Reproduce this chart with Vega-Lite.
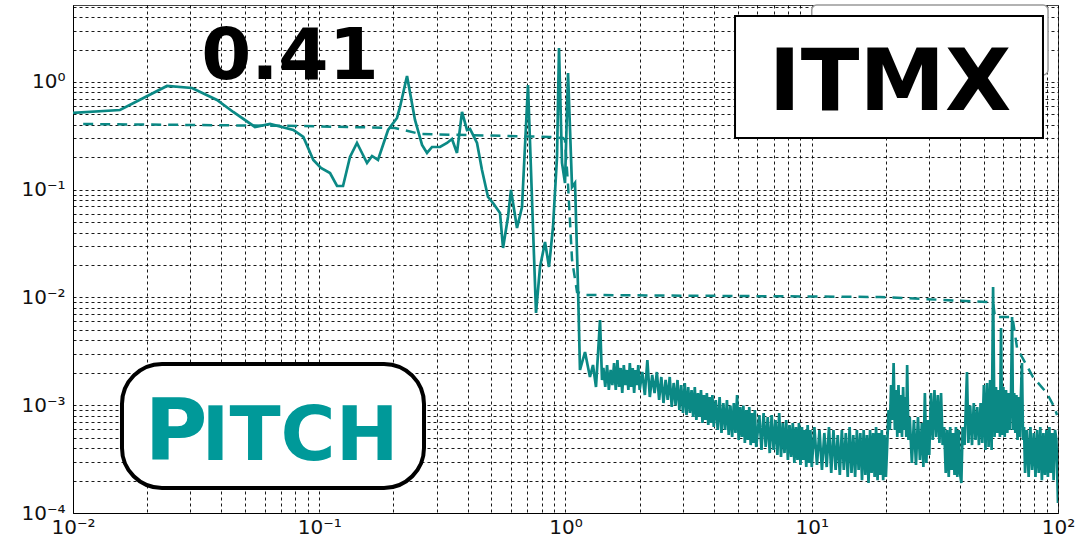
{
  "$schema": "https://vega.github.io/schema/vega-lite/v6.json",
  "width": 985,
  "height": 508,
  "autosize": {"type": "none"},
  "padding": {"left": 73, "top": 5, "right": 28, "bottom": 44},
  "background": "white",
  "config": {
    "view": {"stroke": "#444", "strokeWidth": 1},
    "font": "DejaVu Sans",
    "axis": {
      "title": null, "grid": true, "ticks": false, "domain": true, "domainColor": "black",
      "gridColor": "black", "gridDash": [3, 3], "gridWidth": 1, "gridOpacity": 0.9,
      "labelFont": "DejaVu Sans", "labelFontSize": 20, "labelColor": "#111",
      "labelFlush": false, "labelOverlap": false
    }
  },
  "datasets": {
    "spectrum": [
      {"f": 0.01, "v": 0.5156}, {"f": 0.01552, "v": 0.5497}, {"f": 0.02408, "v": 0.9181}, {"f": 0.03043, "v": 0.8796},
      {"f": 0.03845, "v": 0.6808}, {"f": 0.04474, "v": 0.5266}, {"f": 0.05484, "v": 0.3824}, {"f": 0.0631, "v": 0.4076},
      {"f": 0.07846, "v": 0.3585}, {"f": 0.08616, "v": 0.3088}, {"f": 0.09462, "v": 0.1888}, {"f": 0.1016, "v": 0.1591},
      {"f": 0.1106, "v": 0.143}, {"f": 0.1181, "v": 0.1083}, {"f": 0.1249, "v": 0.1083}, {"f": 0.1333, "v": 0.2013},
      {"f": 0.1423, "v": 0.2716}, {"f": 0.1563, "v": 0.1771}, {"f": 0.1638, "v": 0.2056}, {"f": 0.1732, "v": 0.1888},
      {"f": 0.1903, "v": 0.3585}, {"f": 0.2069, "v": 0.4634}, {"f": 0.2128, "v": 0.5861}, {"f": 0.2272, "v": 1.137},
      {"f": 0.2448, "v": 0.4439}, {"f": 0.2615, "v": 0.2602}, {"f": 0.2739, "v": 0.2194}, {"f": 0.287, "v": 0.2492},
      {"f": 0.3093, "v": 0.2492}, {"f": 0.3302, "v": 0.2716}, {"f": 0.346, "v": 0.2958}, {"f": 0.3625, "v": 0.2194},
      {"f": 0.3799, "v": 0.5266}, {"f": 0.3981, "v": 0.3585}, {"f": 0.4095, "v": 0.3663}, {"f": 0.4372, "v": 0.2716},
      {"f": 0.458, "v": 0.1525}, {"f": 0.4845, "v": 0.08562}, {"f": 0.5077, "v": 0.07534}, {"f": 0.542, "v": 0.06084},
      {"f": 0.5576, "v": 0.0288}, {"f": 0.584, "v": 0.05585}, {"f": 0.6006, "v": 0.09947}, {"f": 0.6355, "v": 0.04416},
      {"f": 0.6658, "v": 0.06918}, {"f": 0.7042, "v": 0.9379}, {"f": 0.759, "v": 0.007181}, {"f": 0.7881, "v": 0.01919},
      {"f": 0.8258, "v": 0.03273}, {"f": 0.857, "v": 0.01919}, {"f": 0.8897, "v": 0.04511}, {"f": 0.9237, "v": 0.2013},
      {"f": 0.941, "v": 2.068}, {"f": 0.9678, "v": 0.1771}, {"f": 0.9954, "v": 0.1155}, {"f": 1.024, "v": 1.212},
      {"f": 1.063, "v": 0.106}, {"f": 1.093, "v": 0.1155}, {"f": 1.124, "v": 0.01252}, {"f": 1.145, "v": 0.002124},
      {"f": 1.2, "v": 0.003119}, {"f": 1.257, "v": 0.001829}, {"f": 1.293, "v": 0.002363}, {"f": 1.33, "v": 0.001477},
      {"f": 1.381, "v": 0.006181}, {"f": 1.407, "v": 0.001715},
      {"f": 1.425, "v": 0.002217}, {"f": 1.45, "v": 0.001477}, {"f": 1.475, "v": 0.002363}, {"f": 1.5, "v": 0.001385},
      {"f": 1.525, "v": 0.002124}, {"f": 1.55, "v": 0.00154}, {"f": 1.575, "v": 0.002466}, {"f": 1.6, "v": 0.001385},
      {"f": 1.625, "v": 0.00263}, {"f": 1.65, "v": 0.001477}, {"f": 1.675, "v": 0.002217}, {"f": 1.7, "v": 0.001299},
      {"f": 1.725, "v": 0.002363}, {"f": 1.75, "v": 0.00154}, {"f": 1.775, "v": 0.002124}, {"f": 1.8, "v": 0.001385},
      {"f": 1.825, "v": 0.002466}, {"f": 1.85, "v": 0.001477}, {"f": 1.875, "v": 0.002217}, {"f": 1.9, "v": 0.001299},
      {"f": 1.925, "v": 0.002124}, {"f": 1.95, "v": 0.00154}, {"f": 1.975, "v": 0.002363}, {"f": 2.0, "v": 0.001385},
      {"f": 2.05, "v": 0.002035}, {"f": 2.1, "v": 0.001245}, {"f": 2.15, "v": 0.00263}, {"f": 2.2, "v": 0.001193},
      {"f": 2.25, "v": 0.001909}, {"f": 2.3, "v": 0.001299}, {"f": 2.35, "v": 0.002035}, {"f": 2.4, "v": 0.001119},
      {"f": 2.45, "v": 0.001829}, {"f": 2.5, "v": 0.001049}, {"f": 2.55, "v": 0.001716}, {"f": 2.6, "v": 0.001119},
      {"f": 2.65, "v": 0.001829}, {"f": 2.7, "v": 0.000963}, {"f": 2.75, "v": 0.001609}, {"f": 2.8, "v": 0.000995},
      {"f": 2.85, "v": 0.001716}, {"f": 2.9, "v": 0.000904}, {"f": 2.95, "v": 0.00154}, {"f": 3.0, "v": 0.000847},
      {"f": 3.05, "v": 0.001609}, {"f": 3.1, "v": 0.000811}, {"f": 3.15, "v": 0.001477}, {"f": 3.2, "v": 0.000847},
      {"f": 3.25, "v": 0.001385}, {"f": 3.3, "v": 0.000778}, {"f": 3.35, "v": 0.001477}, {"f": 3.4, "v": 0.00073},
      {"f": 3.45, "v": 0.001299}, {"f": 3.5, "v": 0.000778}, {"f": 3.55, "v": 0.001385}, {"f": 3.6, "v": 0.000684},
      {"f": 3.65, "v": 0.001245}, {"f": 3.7, "v": 0.00073}, {"f": 3.75, "v": 0.001299}, {"f": 3.8, "v": 0.000655},
      {"f": 3.85, "v": 0.001193}, {"f": 3.9, "v": 0.000684}, {"f": 3.95, "v": 0.001245}, {"f": 4.0, "v": 0.000628},
      {"f": 4.075, "v": 0.001119}, {"f": 4.15, "v": 0.000589}, {"f": 4.225, "v": 0.001193}, {"f": 4.3, "v": 0.000553},
      {"f": 4.375, "v": 0.001049}, {"f": 4.45, "v": 0.000589}, {"f": 4.525, "v": 0.001119}, {"f": 4.6, "v": 0.000529},
      {"f": 4.675, "v": 0.000995}, {"f": 4.75, "v": 0.000507}, {"f": 4.825, "v": 0.001049}, {"f": 4.9, "v": 0.000553},
      {"f": 4.975, "v": 0.001245}, {"f": 5.05, "v": 0.000476}, {"f": 5.125, "v": 0.000963}, {"f": 5.2, "v": 0.000507},
      {"f": 5.275, "v": 0.000995}, {"f": 5.35, "v": 0.000446}, {"f": 5.425, "v": 0.000904}, {"f": 5.5, "v": 0.000476},
      {"f": 5.575, "v": 0.000963}, {"f": 5.65, "v": 0.000427}, {"f": 5.725, "v": 0.000847}, {"f": 5.8, "v": 0.000446},
      {"f": 5.875, "v": 0.000904}, {"f": 5.95, "v": 0.00041},
      {"f": 6.125, "v": 0.000811}, {"f": 6.25, "v": 0.000384}, {"f": 6.375, "v": 0.000847}, {"f": 6.5, "v": 0.00041},
      {"f": 6.625, "v": 0.000778}, {"f": 6.75, "v": 0.00036}, {"f": 6.875, "v": 0.000811}, {"f": 7.0, "v": 0.000384},
      {"f": 7.125, "v": 0.00073}, {"f": 7.25, "v": 0.000345}, {"f": 7.375, "v": 0.000847}, {"f": 7.5, "v": 0.000331},
      {"f": 7.625, "v": 0.000684}, {"f": 7.75, "v": 0.00036}, {"f": 7.875, "v": 0.00073}, {"f": 8.0, "v": 0.00031},
      {"f": 8.125, "v": 0.000655}, {"f": 8.25, "v": 0.000331}, {"f": 8.375, "v": 0.000684}, {"f": 8.5, "v": 0.000291},
      {"f": 8.625, "v": 0.000628}, {"f": 8.75, "v": 0.00031}, {"f": 8.875, "v": 0.000684}, {"f": 9.0, "v": 0.000279},
      {"f": 9.125, "v": 0.000628}, {"f": 9.25, "v": 0.00031}, {"f": 9.375, "v": 0.000589}, {"f": 9.5, "v": 0.000267},
      {"f": 9.625, "v": 0.000655}, {"f": 9.75, "v": 0.000291}, {"f": 9.875, "v": 0.000589}, {"f": 10.0, "v": 0.000267},
      {"f": 10.25, "v": 0.000628}, {"f": 10.5, "v": 0.000279}, {"f": 10.75, "v": 0.000589}, {"f": 11.0, "v": 0.000251},
      {"f": 11.25, "v": 0.000553}, {"f": 11.5, "v": 0.000267}, {"f": 11.75, "v": 0.000628}, {"f": 12.0, "v": 0.000235},
      {"f": 12.25, "v": 0.000589}, {"f": 12.5, "v": 0.000251}, {"f": 12.75, "v": 0.000529}, {"f": 13.0, "v": 0.000225},
      {"f": 13.25, "v": 0.000589}, {"f": 13.5, "v": 0.000251}, {"f": 13.75, "v": 0.000553}, {"f": 14.0, "v": 0.000216},
      {"f": 14.25, "v": 0.000628}, {"f": 14.5, "v": 0.000235}, {"f": 14.75, "v": 0.000529}, {"f": 15.0, "v": 0.000216},
      {"f": 15.25, "v": 0.000589}, {"f": 15.5, "v": 0.000251}, {"f": 15.75, "v": 0.000553}, {"f": 16.0, "v": 0.000202},
      {"f": 16.25, "v": 0.000589}, {"f": 16.5, "v": 0.000225}, {"f": 16.75, "v": 0.000529}, {"f": 17.0, "v": 0.00019},
      {"f": 17.25, "v": 0.000589}, {"f": 17.5, "v": 0.000235}, {"f": 17.75, "v": 0.000553}, {"f": 18.0, "v": 0.000216},
      {"f": 18.25, "v": 0.000628}, {"f": 18.5, "v": 0.000202}, {"f": 18.75, "v": 0.000553}, {"f": 19.0, "v": 0.000225},
      {"f": 19.25, "v": 0.000589}, {"f": 19.5, "v": 0.000202}, {"f": 19.75, "v": 0.000529}, {"f": 20.0, "v": 0.000216},
      {"f": 20.25, "v": 0.000427}, {"f": 20.5, "v": 0.000904}, {"f": 20.75, "v": 0.000589}, {"f": 21.0, "v": 0.00154},
      {"f": 21.25, "v": 0.00073}, {"f": 21.5, "v": 0.002466}, {"f": 21.75, "v": 0.000589}, {"f": 22.0, "v": 0.001385},
      {"f": 22.25, "v": 0.000507}, {"f": 22.5, "v": 0.00154}, {"f": 22.75, "v": 0.000553}, {"f": 23.0, "v": 0.001245},
      {"f": 23.25, "v": 0.000507}, {"f": 23.5, "v": 0.001477}, {"f": 23.75, "v": 0.000589}, {"f": 24.0, "v": 0.001193},
      {"f": 24.2, "v": 0.000507}, {"f": 24.4, "v": 0.002363}, {"f": 24.7, "v": 0.000476}, {"f": 25.0, "v": 0.000778},
      {"f": 25.5, "v": 0.000291}, {"f": 26.0, "v": 0.00073}, {"f": 26.5, "v": 0.000279}, {"f": 27.0, "v": 0.000778},
      {"f": 27.5, "v": 0.00031}, {"f": 28.0, "v": 0.000684}, {"f": 28.4, "v": 0.000267}, {"f": 28.8, "v": 0.001299},
      {"f": 29.2, "v": 0.000291}, {"f": 29.6, "v": 0.00073}, {"f": 30.0, "v": 0.000345}, {"f": 30.5, "v": 0.001299},
      {"f": 31.0, "v": 0.000476}, {"f": 31.5, "v": 0.001385}, {"f": 32.0, "v": 0.000507}, {"f": 32.5, "v": 0.001245},
      {"f": 33.0, "v": 0.000446}, {"f": 33.5, "v": 0.001299}, {"f": 34.0, "v": 0.000427}, {"f": 34.5, "v": 0.000628},
      {"f": 35.0, "v": 0.000235}, {"f": 35.5, "v": 0.000589}, {"f": 36.0, "v": 0.000216}, {"f": 36.5, "v": 0.000628},
      {"f": 37.0, "v": 0.000251}, {"f": 37.5, "v": 0.000553}, {"f": 38.0, "v": 0.000225}, {"f": 38.5, "v": 0.000628},
      {"f": 39.0, "v": 0.000216}, {"f": 39.5, "v": 0.000589}, {"f": 40.0, "v": 0.000235}, {"f": 40.5, "v": 0.00019},
      {"f": 41.0, "v": 0.000628}, {"f": 41.75, "v": 0.000427}, {"f": 42.7, "v": 0.002035}, {"f": 43.25, "v": 0.000446},
      {"f": 44.0, "v": 0.000995}, {"f": 44.75, "v": 0.000427}, {"f": 45.5, "v": 0.001049}, {"f": 46.25, "v": 0.000476},
      {"f": 47.0, "v": 0.000963}, {"f": 47.75, "v": 0.000427}, {"f": 48.5, "v": 0.001049}, {"f": 49.25, "v": 0.000446},
      {"f": 50.0, "v": 0.00154}, {"f": 50.75, "v": 0.000384}, {"f": 51.5, "v": 0.001609}, {"f": 52.25, "v": 0.00041},
      {"f": 53.0, "v": 0.001716}, {"f": 53.75, "v": 0.000384}, {"f": 54.5, "v": 0.01252}, {"f": 55.25, "v": 0.000507},
      {"f": 56.0, "v": 0.001477}, {"f": 56.75, "v": 0.000553}, {"f": 57.5, "v": 0.001385}, {"f": 58.1, "v": 0.000507},
      {"f": 58.7, "v": 0.00521}, {"f": 59.3, "v": 0.000529}, {"f": 60.0, "v": 0.001477}, {"f": 60.75, "v": 0.000507},
      {"f": 61.5, "v": 0.001385}, {"f": 62.25, "v": 0.000553}, {"f": 63.0, "v": 0.001299}, {"f": 63.75, "v": 0.000589},
      {"f": 64.5, "v": 0.001385}, {"f": 65.1, "v": 0.00659}, {"f": 65.7, "v": 0.000589}, {"f": 66.4, "v": 0.001299},
      {"f": 67.1, "v": 0.000553}, {"f": 67.8, "v": 0.001245}, {"f": 68.5, "v": 0.000476}, {"f": 69.25, "v": 0.001193},
      {"f": 70.0, "v": 0.000507}, {"f": 70.7, "v": 0.001245}, {"f": 71.4, "v": 0.002466}, {"f": 72.1, "v": 0.000476},
      {"f": 72.8, "v": 0.000628}, {"f": 73.5, "v": 0.000235}, {"f": 74.75, "v": 0.000589}, {"f": 76.0, "v": 0.000216},
      {"f": 77.25, "v": 0.000628}, {"f": 78.5, "v": 0.000251}, {"f": 79.75, "v": 0.000553}, {"f": 81.0, "v": 0.000216},
      {"f": 82.25, "v": 0.000589}, {"f": 83.5, "v": 0.000235}, {"f": 84.75, "v": 0.000628}, {"f": 86.0, "v": 0.000202},
      {"f": 87.25, "v": 0.000553}, {"f": 88.5, "v": 0.000225}, {"f": 89.75, "v": 0.000589}, {"f": 91.0, "v": 0.000216},
      {"f": 92.25, "v": 0.000628}, {"f": 93.5, "v": 0.000235}, {"f": 94.75, "v": 0.000553}, {"f": 96.0, "v": 0.000202},
      {"f": 97.25, "v": 0.000589}, {"f": 98.5, "v": 0.000476}, {"f": 100, "v": 0.000124}
    ],
    "cumrms": [
      {"f": 0.011, "v": 0.4076}, {"f": 0.0835, "v": 0.3906}, {"f": 0.203, "v": 0.3742}, {"f": 0.2566, "v": 0.3292},
      {"f": 0.865, "v": 0.3088}, {"f": 0.977, "v": 0.302}, {"f": 0.995, "v": 0.2895}, {"f": 1.024, "v": 0.1107},
      {"f": 1.063, "v": 0.02229}, {"f": 1.114, "v": 0.01125}, {"f": 1.2, "v": 0.01055}, {"f": 18.93, "v": 0.01011},
      {"f": 51.5, "v": 0.00908}, {"f": 54.5, "v": 0.00889}, {"f": 55.5, "v": 0.00659}, {"f": 65.1, "v": 0.00659},
      {"f": 65.5, "v": 0.0063}, {"f": 68.2, "v": 0.0034}, {"f": 79.15, "v": 0.001829}, {"f": 90, "v": 0.001299},
      {"f": 96.6, "v": 0.000963}, {"f": 99.1, "v": 0.000812}
    ]
  },
  "layer": [
    {
      "data": {"name": "spectrum"},
      "mark": {"type": "line", "color": "#0b8985", "strokeWidth": 2.7, "clip": true},
      "encoding": {
        "x": {
          "field": "f", "type": "quantitative",
          "scale": {"type": "log", "domain": [0.01, 100], "nice": false},
          "axis": {
            "labelPadding": 4,
            "values": [0.01, 0.02, 0.03, 0.04, 0.05, 0.06, 0.07, 0.08, 0.09, 0.1, 0.2, 0.3, 0.4, 0.5, 0.6, 0.7, 0.8, 0.9, 1, 2, 3, 4, 5, 6, 7, 8, 9, 10, 20, 30, 40, 50, 60, 70, 80, 90, 100],
            "labelExpr": "datum.value == 0.01 ? '10⁻²' : datum.value == 0.1 ? '10⁻¹' : datum.value == 1 ? '10⁰' : datum.value == 10 ? '10¹' : datum.value == 100 ? '10²' : ''"
          }
        },
        "y": {
          "field": "v", "type": "quantitative",
          "scale": {"type": "log", "domain": [0.0001, 5.18], "nice": false},
          "axis": {
            "labelPadding": 8,
            "values": [0.0001, 0.0002, 0.0003, 0.0004, 0.0005, 0.0006, 0.0007, 0.0008, 0.0009, 0.001, 0.002, 0.003, 0.004, 0.005, 0.006, 0.007, 0.008, 0.009, 0.01, 0.02, 0.03, 0.04, 0.05, 0.06, 0.07, 0.08, 0.09, 0.1, 0.2, 0.3, 0.4, 0.5, 0.6, 0.7, 0.8, 0.9, 1, 2, 3, 4, 5],
            "labelExpr": "datum.value == 0.0001 ? '10⁻⁴' : datum.value == 0.001 ? '10⁻³' : datum.value == 0.01 ? '10⁻²' : datum.value == 0.1 ? '10⁻¹' : datum.value == 1 ? '10⁰' : ''"
          }
        }
      }
    },
    {
      "data": {"name": "cumrms"},
      "mark": {"type": "line", "color": "#0b8985", "strokeWidth": 2.5, "strokeDash": [10, 7], "clip": true},
      "encoding": {
        "x": {"field": "f", "type": "quantitative"},
        "y": {"field": "v", "type": "quantitative"}
      }
    },
    {
      "data": {"values": [{"name": "legend"}]},
      "mark": {"type": "rect", "fill": "white", "stroke": "#999", "strokeWidth": 1.5, "cornerRadius": 5},
      "encoding": {"x": {"datum": 10.0, "type": "quantitative"}, "x2": {"datum": 91.1}, "y": {"datum": 5.18, "type": "quantitative"}, "y2": {"datum": 1.161}}
    },
    {
      "data": {"values": [{"name": "itmx box"}]},
      "mark": {"type": "rect", "fill": "white", "stroke": "black", "strokeWidth": 2},
      "encoding": {"x": {"datum": 4.88, "type": "quantitative"}, "x2": {"datum": 86.9}, "y": {"datum": 4.1, "type": "quantitative"}, "y2": {"datum": 0.302}}
    },
    {
      "data": {"values": [{"label": "ITMX"}]},
      "mark": {"type": "text", "font": "DejaVu Sans", "fontWeight": "bold", "fontSize": 86, "color": "black", "align": "center", "baseline": "alphabetic"},
      "encoding": {"x": {"datum": 20.8, "type": "quantitative"}, "y": {"datum": 0.55, "type": "quantitative"}, "text": {"field": "label"}}
    },
    {
      "data": {"values": [{"label": "0.41"}]},
      "mark": {"type": "text", "font": "DejaVu Sans", "fontWeight": "bold", "fontSize": 72, "color": "black", "align": "center", "baseline": "alphabetic"},
      "encoding": {"x": {"datum": 0.07605, "type": "quantitative"}, "y": {"datum": 1.066, "type": "quantitative"}, "text": {"field": "label"}}
    },
    {
      "data": {"values": [{"name": "pitch box"}]},
      "mark": {"type": "rect", "fill": "white", "stroke": "black", "strokeWidth": 4, "cornerRadius": 40},
      "encoding": {"x": {"datum": 0.01581, "type": "quantitative"}, "x2": {"datum": 0.2663}, "y": {"datum": 0.002415, "type": "quantitative"}, "y2": {"datum": 0.0001706}}
    },
    {
      "data": {"values": [{"label": "P"}]},
      "mark": {"type": "text", "font": "DejaVu Sans", "fontWeight": "bold", "fontSize": 86, "color": "#009999", "align": "center", "baseline": "alphabetic"},
      "encoding": {"x": {"datum": 0.0262, "type": "quantitative"}, "y": {"datum": 0.0003105, "type": "quantitative"}, "text": {"field": "label"}}
    },
    {
      "data": {"values": [{"label": "ITCH"}]},
      "mark": {"type": "text", "font": "DejaVu Sans", "fontWeight": "bold", "fontSize": 75, "color": "#009999", "align": "center", "baseline": "alphabetic"},
      "encoding": {"x": {"datum": 0.08352, "type": "quantitative"}, "y": {"datum": 0.0003105, "type": "quantitative"}, "text": {"field": "label"}}
    }
  ]
}
